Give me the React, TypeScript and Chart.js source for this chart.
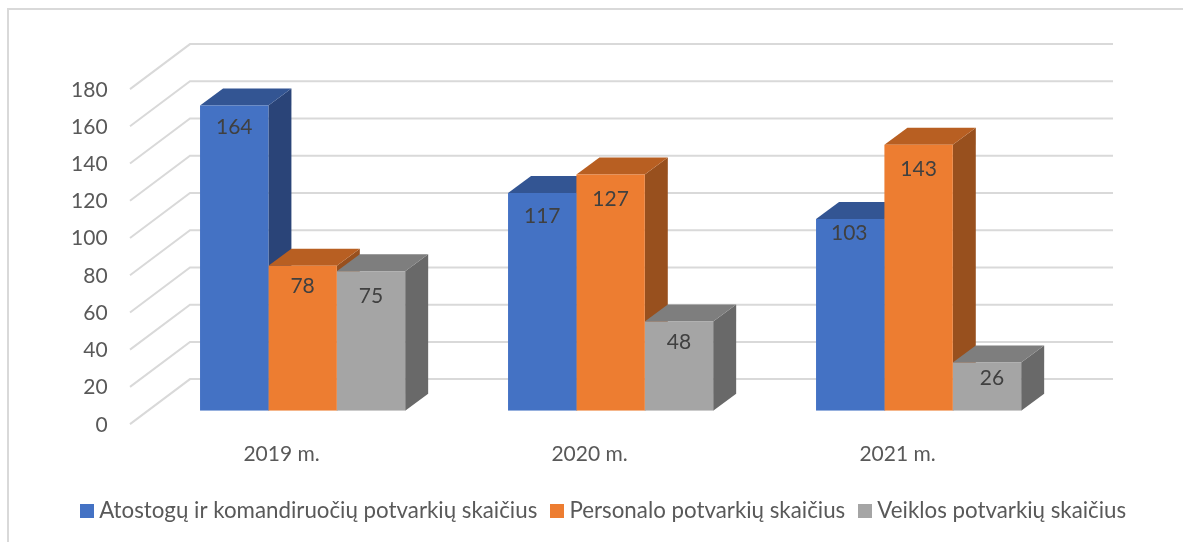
import React, { useEffect, useRef } from "react";
import { Chart, registerables } from "chart.js";

Chart.register(...registerables);

const categories = ["2019 m.", "2020 m.", "2021 m."];
const leaveOrders = [164, 117, 103];
const personnelOrders = [78, 127, 143];
const activityOrders = [75, 48, 26];
const seriesNames = [
  "Atostogų ir komandiruočių potvarkių skaičius",
  "Personalo potvarkių skaičius",
  "Veiklos potvarkių skaičius",
];
const frontColors = ["#4472C4", "#ED7D31", "#A5A5A5"];
const topColors = ["#335593", "#B85F22", "#7E7E7E"];
const sideColors = ["#2A4478", "#98501E", "#696969"];
// how far each value label sits below the top of its bar, and to the right of its centre
const labelDrop = [
  [22, 23, 14],
  [21, 25, 25],
  [25, 21, 16],
];
const labelShift = [
  [0, 0, -1],
  [0, 0, 0],
  [0, 0, 5],
];

const FONT = "Lato";
const TEXT = "#595959";
const LABEL = "#404040";
const GRID = "#D9D9D9";
const DX = 23;
const DY = 17;

function swatch(color: string) {
  const c = document.createElement("canvas");
  c.width = 14;
  c.height = 14;
  const g = c.getContext("2d")!;
  g.fillStyle = color;
  g.fillRect(0, 0, 14, 14);
  return c;
}

const chart3d = {
  id: "chart3d",
  afterLayout(chart: any) {
    const l = chart.legend;
    l.left = 67;
    l.right = 1180;
    l.top = 481;
    l.bottom = 526;
    chart.scales.x.bottom = 480;
  },
  beforeDatasetsDraw(chart: any) {
    const { ctx, chartArea, scales } = chart;
    const y = scales.y;
    ctx.save();
    ctx.strokeStyle = GRID;
    ctx.lineWidth = 2;
    ctx.beginPath();
    ctx.moveTo(8, 542);
    ctx.lineTo(8, 9);
    ctx.lineTo(1183, 9);
    ctx.stroke();
    const bl = chartArea.left + 41.4;
    const br = chartArea.right + 40.4;
    const fl = chartArea.left - 18.6;
    y.ticks.forEach((t: any) => {
      const p = y.getPixelForValue(t.value);
      ctx.beginPath();
      ctx.moveTo(fl, p + 13.3);
      ctx.lineTo(bl, p - 31.7);
      ctx.lineTo(br, p - 31.7);
      ctx.stroke();
    });
    const n = categories.length;
    for (let c = 0; c < n; c++) {
      chart.data.datasets.forEach((_: any, di: number) => {
        const bar = chart.getDatasetMeta(di).data[c];
        const half = bar.width / 2;
        const x0 = bar.x - half;
        const x1 = bar.x + half;
        const top = bar.y;
        const bot = bar.base;
        ctx.fillStyle = sideColors[di];
        ctx.beginPath();
        ctx.moveTo(x1, top);
        ctx.lineTo(x1 + DX, top - DY);
        ctx.lineTo(x1 + DX, bot - DY);
        ctx.lineTo(x1, bot);
        ctx.closePath();
        ctx.fill();
        ctx.fillStyle = topColors[di];
        ctx.beginPath();
        ctx.moveTo(x0, top);
        ctx.lineTo(x0 + DX, top - DY);
        ctx.lineTo(x1 + DX, top - DY);
        ctx.lineTo(x1, top);
        ctx.closePath();
        ctx.fill();
      });
    }
    ctx.restore();
  },
  afterDatasetsDraw(chart: any) {
    const { ctx } = chart;
    ctx.save();
    ctx.font = `21px ${FONT}`;
    ctx.fillStyle = LABEL;
    ctx.textAlign = "center";
    ctx.textBaseline = "middle";
    chart.data.datasets.forEach((ds: any, di: number) => {
      chart.getDatasetMeta(di).data.forEach((bar: any, i: number) => {
        ctx.fillText(String(ds.data[i]), bar.x + labelShift[di][i], bar.y + labelDrop[di][i]);
      });
    });
    ctx.restore();
  },
};

export default function App() {
  const ref = useRef<HTMLCanvasElement>(null);
  useEffect(() => {
    document.body.style.margin = "0";
    const values = [leaveOrders, personnelOrders, activityOrders];
    const swatches = frontColors.map(swatch);
    const chart = new Chart(ref.current!, {
      type: "bar",
      data: {
        labels: categories,
        datasets: values.map((data, i) => ({
          label: seriesNames[i],
          data,
          backgroundColor: frontColors[i],
          borderWidth: 0,
          pointStyle: swatches[i],
        })),
      },
      options: {
        animation: false,
        responsive: false,
        events: [],
        layout: { padding: { left: 0, right: 110.4, top: 75.8, bottom: 0 } },
        datasets: { bar: { categoryPercentage: 0.666, barPercentage: 1 } },
        scales: {
          x: {
            grid: { display: false },
            border: { display: false },
            afterFit(s: any) { s.height = 38.6; },
            ticks: {
              labelOffset: -21,
              padding: 23,
              maxRotation: 0,
              color: TEXT,
              font: { family: FONT, size: 21 },
            },
          },
          y: {
            min: 0,
            max: 180,
            grid: { display: false },
            border: { display: false },
            afterFit(s: any) { s.width = 148.6; },
            ticks: {
              stepSize: 20,
              labelOffset: 14,
              padding: 33,
              color: TEXT,
              font: { family: FONT, size: 21 },
            },
          },
        },
        plugins: {
          tooltip: { enabled: false },
          legend: {
            position: "bottom",
            align: "start",
            labels: {
              usePointStyle: true,
              pointStyleWidth: 2,
              padding: 19,
              color: TEXT,
              font: { family: FONT, size: 22.3 },
            },
          },
        },
      } as any,
      plugins: [chart3d],
    });
    return () => chart.destroy();
  }, []);
  return <canvas ref={ref} width={1183} height={542} style={{ display: "block" }} />;
}
